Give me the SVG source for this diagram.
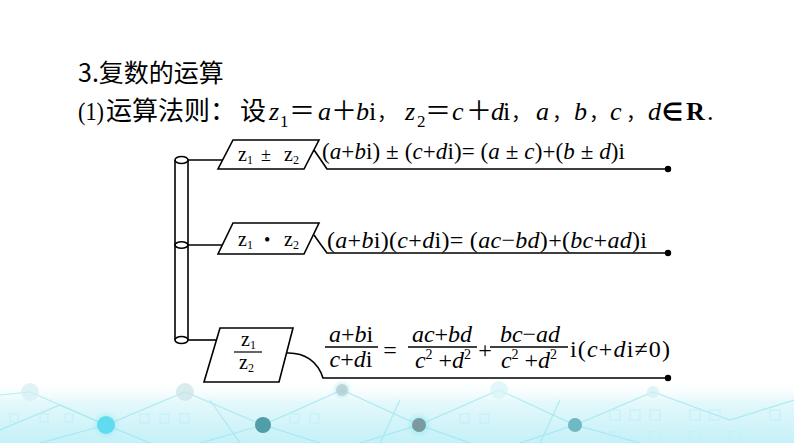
<svg xmlns="http://www.w3.org/2000/svg" width="794" height="443" viewBox="0 0 794 443">
<defs>
<linearGradient id="bg" x1="0" y1="0" x2="0" y2="1">
<stop offset="0" stop-color="#ffffff" stop-opacity="0"/>
<stop offset="0.35" stop-color="#e4f8fb"/>
<stop offset="1" stop-color="#c4f1f8"/>
</linearGradient>
<radialGradient id="glow" cx="0.5" cy="0.5" r="0.5">
<stop offset="0" stop-color="#7fe6f4" stop-opacity="0.8"/>
<stop offset="1" stop-color="#7fe6f4" stop-opacity="0"/>
</radialGradient>
</defs>
<style>
.cjk{font-family:"Noto Sans CJK SC","Noto Sans",sans-serif;}
.m{font-family:"Liberation Serif","Times New Roman",serif;}
.it{font-style:italic;}
.ln{fill:none;stroke:#000;stroke-width:1.6;}
.shape{fill:#fff;stroke:#000;stroke-width:1.6;}
.dot{fill:#000;}
.deco{stroke:#8fe3ef;stroke-width:1.2;fill:none;opacity:0.6;}
.sq{stroke:#bfeff6;stroke-width:1;fill:none;}
</style>
<rect x="0" y="0" width="794" height="443" fill="#fff"/>
<g id="background">
<rect x="0" y="380" width="794" height="63" fill="url(#bg)"/>
<g class="deco">
<path d="M0 430 L60 405 L106 425 L185 392 L263 425 L342 390 L419 425 L499 390 L575 425 L653 392 L730 420 L794 400"/>
<path d="M40 443 L106 425 L150 443"/>
<path d="M200 443 L263 425 L320 443"/>
<path d="M360 443 L419 425 L470 443"/>
<path d="M520 443 L575 425 L640 443"/>
<path d="M0 395 L30 392 L106 425"/>
<path d="M210 400 L240 443 M400 400 L380 443 M560 400 L540 443"/>
</g>
<g class="sq">
<rect x="10" y="414" width="8" height="8"/><rect x="40" y="414" width="8" height="8"/><rect x="65" y="414" width="8" height="8"/>
<rect x="140" y="414" width="9" height="9"/><rect x="160" y="414" width="9" height="9"/><rect x="180" y="414" width="9" height="9"/>
<rect x="290" y="414" width="9" height="9"/><rect x="310" y="414" width="9" height="9"/>
<rect x="460" y="414" width="9" height="9"/><rect x="480" y="414" width="9" height="9"/>
<rect x="610" y="410" width="10" height="10"/><rect x="630" y="410" width="10" height="10"/><rect x="650" y="410" width="10" height="10"/><rect x="690" y="410" width="10" height="10"/><rect x="710" y="410" width="10" height="10"/><rect x="770" y="410" width="10" height="10"/>
<rect x="610" y="432" width="10" height="10"/><rect x="650" y="432" width="10" height="10"/><rect x="690" y="432" width="10" height="10"/><rect x="730" y="432" width="10" height="10"/>
</g>
<circle cx="30" cy="392" r="9" fill="#d3eef2" opacity="0.7"/>
<circle cx="185" cy="392" r="9" fill="#c9e4e6" opacity="0.7"/>
<circle cx="342" cy="390" r="10" fill="url(#glow)"/>
<circle cx="342" cy="390" r="6" fill="#b9c9ca" opacity="0.7"/>
<circle cx="499" cy="390" r="9" fill="#d6f3f6" opacity="0.7"/>
<circle cx="653" cy="392" r="6" fill="#d3eef2" opacity="0.7"/>
<circle cx="106" cy="425" r="14" fill="url(#glow)"/>
<circle cx="106" cy="425" r="9" fill="#5fdcef"/>
<circle cx="263" cy="425" r="8" fill="#4f9ea8"/>
<circle cx="419" cy="425" r="13" fill="url(#glow)"/>
<circle cx="419" cy="425" r="7" fill="#7a9a9e"/>
<circle cx="575" cy="425" r="7" fill="#6fb9c3"/>
</g>
<g id="heading">
<text x="78" y="82" font-size="25" class="cjk">3.复数的运算</text>
<text y="120" font-size="26">
<tspan class="m" x="78" font-size="26" textLength="26" lengthAdjust="spacingAndGlyphs">(1)</tspan>
<tspan class="cjk" x="106">运算法则：</tspan>
<tspan class="cjk" x="240">设</tspan>
<tspan class="m it" x="269">z</tspan><tspan class="m" x="280" y="127" font-size="17">1</tspan>
<tspan class="cjk" x="289" y="120">＝</tspan>
<tspan class="m it" x="318">a</tspan>
<tspan class="cjk" x="331">＋</tspan>
<tspan class="m it" x="356">b</tspan><tspan class="m" x="369">i</tspan>
<tspan class="cjk" x="377" font-size="20">，</tspan>
<tspan class="m it" x="405">z</tspan><tspan class="m" x="417" y="127" font-size="17">2</tspan>
<tspan class="cjk" x="425" y="120">＝</tspan>
<tspan class="m it" x="452">c</tspan>
<tspan class="cjk" x="466">＋</tspan>
<tspan class="m it" x="491">d</tspan><tspan class="m" x="503">i</tspan>
<tspan class="cjk" x="511" font-size="20">，</tspan>
<tspan class="m it" x="536">a</tspan>
<tspan class="cjk" x="552" font-size="20">，</tspan>
<tspan class="m it" x="574">b</tspan>
<tspan class="cjk" x="589" font-size="20">，</tspan>
<tspan class="m it" x="610">c</tspan>
<tspan class="cjk" x="626" font-size="20">，</tspan>
<tspan class="m it" x="648">d</tspan>
<tspan class="m" x="662" font-weight="bold" font-size="24">∈</tspan>
<tspan class="m" x="686" font-weight="bold">R</tspan>
<tspan class="m" x="707">.</tspan>
</text>
</g>
<g id="connectors">
<line class="ln" x1="188" y1="160" x2="223" y2="160"/>
<line class="ln" x1="188" y1="245" x2="222" y2="245"/>
<line class="ln" x1="188" y1="340" x2="216" y2="340"/>
<path class="ln" d="M314 150 Q321 160 327 169 L668 169"/>
<path class="ln" d="M314 235 Q321 245 327 253 L668 253"/>
<path class="ln" d="M286 353 C305 352 318 362 323 378 L668 378"/>
<circle class="dot" cx="668" cy="169" r="3.2"/>
<circle class="dot" cx="668" cy="253" r="3.2"/>
<circle class="dot" cx="668" cy="378" r="3.2"/>
</g>
<g id="trunk">
<line class="ln" x1="175" y1="160" x2="175" y2="340"/>
<line class="ln" x1="188" y1="160" x2="188" y2="340"/>
<ellipse class="shape" cx="181.5" cy="160" rx="6.5" ry="3.5"/>
<ellipse class="ln" cx="181.5" cy="245" rx="6.5" ry="3.2"/>
<ellipse class="shape" cx="181.5" cy="340" rx="6.5" ry="3.5"/>
</g>
<g id="node-add">
<polygon class="shape" points="233,140 319,140 304,169 218,169"/>
<text y="161" font-size="20" class="m"><tspan x="238">z</tspan><tspan x="247" dy="3" font-size="12">1</tspan><tspan x="261" dy="-3" font-size="18">±</tspan><tspan x="284" font-size="20">z</tspan><tspan x="293" dy="3" font-size="12">2</tspan></text>
<text x="322" y="159" font-size="23" class="m" textLength="303" lengthAdjust="spacing">(<tspan class="it">a</tspan>+<tspan class="it">b</tspan>i) ± (<tspan class="it">c</tspan>+<tspan class="it">d</tspan>i)= (<tspan class="it">a</tspan> ± <tspan class="it">c</tspan>)+(<tspan class="it">b</tspan> ± <tspan class="it">d</tspan>)i</text>
</g>
<g id="node-mul">
<polygon class="shape" points="233,223 319,223 304,254 218,254"/>
<text y="246" font-size="20" class="m"><tspan x="238">z</tspan><tspan x="247" dy="3" font-size="12">1</tspan><tspan x="264" dy="-3" font-size="18">•</tspan><tspan x="284" font-size="20">z</tspan><tspan x="293" dy="3" font-size="12">2</tspan></text>
<text x="327" y="248" font-size="24" class="m" textLength="320" lengthAdjust="spacing">(<tspan class="it">a</tspan>+<tspan class="it">b</tspan>i)(<tspan class="it">c</tspan>+<tspan class="it">d</tspan>i)= (<tspan class="it">ac</tspan>−<tspan class="it">bd</tspan>)+(<tspan class="it">bc</tspan>+<tspan class="it">ad</tspan>)i</text>
</g>
<g id="node-div">
<polygon class="shape" points="220,328 293,328 279,382 204,382"/>
<text y="346" font-size="20" class="m"><tspan x="241">z</tspan><tspan x="250" dy="3" font-size="12">1</tspan></text>
<line x1="234" y1="352" x2="262" y2="352" stroke="#000" stroke-width="1.2"/>
<text y="369" font-size="20" class="m"><tspan x="239">z</tspan><tspan x="248" dy="3" font-size="12">2</tspan></text>
<g class="m" font-size="24">
<text x="351" y="342" text-anchor="middle"><tspan class="it">a</tspan>+<tspan class="it">b</tspan>i</text>
<line x1="325" y1="347" x2="378" y2="347" stroke="#000" stroke-width="1.3"/>
<text x="351" y="367" text-anchor="middle"><tspan class="it">c</tspan>+<tspan class="it">d</tspan>i</text>
<text x="390" y="358" text-anchor="middle">=</text>
<text x="442" y="342" text-anchor="middle"><tspan class="it">ac</tspan>+<tspan class="it">bd</tspan></text>
<line x1="408" y1="347" x2="477" y2="347" stroke="#000" stroke-width="1.3"/>
<text x="443" y="368" text-anchor="middle"><tspan class="it">c</tspan><tspan font-size="14" dy="-9">2</tspan><tspan dy="9"> +</tspan><tspan class="it">d</tspan><tspan font-size="14" dy="-9">2</tspan></text>
<text x="485" y="358" text-anchor="middle">+</text>
<text x="530" y="342" text-anchor="middle"><tspan class="it">bc</tspan>−<tspan class="it">ad</tspan></text>
<line x1="490" y1="347" x2="568" y2="347" stroke="#000" stroke-width="1.3"/>
<text x="529" y="368" text-anchor="middle"><tspan class="it">c</tspan><tspan font-size="14" dy="-9">2</tspan><tspan dy="9"> +</tspan><tspan class="it">d</tspan><tspan font-size="14" dy="-9">2</tspan></text>
<text x="570" y="357" textLength="100" lengthAdjust="spacing">i(<tspan class="it">c</tspan>+<tspan class="it">d</tspan>i≠0)</text>
</g>
</g>
</svg>
